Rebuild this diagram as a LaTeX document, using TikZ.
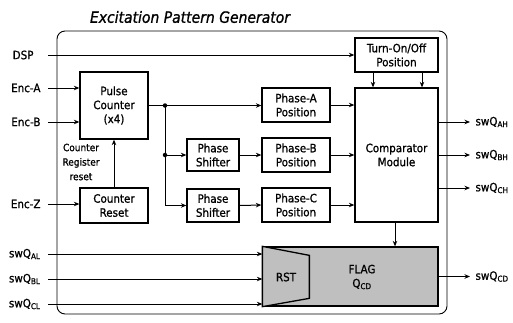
\documentclass[tikz,border=0pt]{standalone}
\usepackage{fontspec}
\setmainfont{DejaVu Sans Condensed}[FakeBold=1]
\usetikzlibrary{arrows.meta,calc}
\newcommand\myfs{\fontsize{11.5}{14}\selectfont}
\newcommand\mysmall{\fontsize{10}{14.5}\selectfont}
\newcommand\mytitle{\fontsize{15.5}{17}\selectfont\itshape}
\begin{document}
\begin{tikzpicture}[x=1pt,y=-1pt,line width=1pt,
  box/.style={draw,line width=1.3pt,fill=white,align=center,inner sep=1pt,font=\myfs},
  arr/.style={-{Stealth[length=5.5pt,width=4.5pt]},line width=1pt},
  lbl/.style={font=\myfs,inner sep=0pt},
  olbl/.style={font=\myfs,inner sep=0pt,anchor=west},
  jdot/.style={circle,fill,inner sep=0pt,minimum size=4.5pt}]
\useasboundingbox (0,0) rectangle (513,322);
% title and container
\node[font=\mytitle] (title) at (190,17) {Excitation Pattern Generator};
\node[draw,line width=0.9pt,rounded corners=8pt,minimum width=390pt,minimum height=283pt,inner sep=0pt] (epg) at (252,172.5) {};
% input coordinates
\coordinate (iDSP) at (48,55);
\coordinate (iA) at (48,88);
\coordinate (iB) at (48,122);
\coordinate (iZ) at (48,204);
\coordinate (iAL) at (48,254);
\coordinate (iBL) at (48,279);
\coordinate (iCL) at (48,304);
\node[lbl,anchor=east] (lDSP) at (34,55) {DSP};
\node[lbl,anchor=east] (lA) at (41,88) {Enc-A};
\node[lbl,anchor=east] (lB) at (41,122) {Enc-B};
\node[lbl,anchor=east] (lZ) at (41,204) {Enc-Z};
\node[lbl,anchor=east] (lAL) at (41,254) {swQ\textsubscript{AL}};
\node[lbl,anchor=east] (lBL) at (41,279) {swQ\textsubscript{BL}};
\node[lbl,anchor=east] (lCL) at (41,304) {swQ\textsubscript{CL}};
% blocks
\node[box,minimum width=68pt,minimum height=67pt] (pulse) at (114,105.5) {Pulse\\Counter\\(x4)};
\node[box,minimum width=68pt,minimum height=35pt] (creset) at (114,205.5) {Counter\\Reset};
\node[font=\mysmall,align=center,inner sep=0pt] (crlbl) at (81,162) {Counter\\Register\\reset};
\node[box,minimum width=52pt,minimum height=32pt] (shB) at (213,155) {Phase\\Shifter};
\node[box,minimum width=52pt,minimum height=33pt] (shC) at (213,205.5) {Phase\\Shifter};
\node[box,minimum width=68pt,minimum height=34pt] (phA) at (296,105) {Phase-A\\Position};
\node[box,minimum width=68pt,minimum height=34pt] (phB) at (296,155) {Phase-B\\Position};
\node[box,minimum width=68pt,minimum height=34pt] (phC) at (296,205) {Phase-C\\Position};
\node[box,minimum width=83pt,minimum height=34pt] (turn) at (396.5,55) {Turn-On/Off\\Position};
\node[box,minimum width=83pt,minimum height=134pt] (comp) at (396.5,155) {Comparator\\Module};
\node[draw,line width=1.3pt,fill=gray!50,minimum width=175pt,minimum height=59pt,inner sep=0pt] (flag) at (350.5,276.5) {};
\draw[line width=1.3pt,fill=gray!50] (flag.north west) -- ++(47,9) -- ++(0,43) -- (flag.south west) -- cycle;
\node[font=\myfs,inner sep=0pt] (rst) at (286,277) {RST};
\node[font=\myfs,align=center,inner sep=0pt] (flagtxt) at (362,277) {FLAG\\Q\textsubscript{CD}};
% inputs
\draw[arr] (iDSP) -- (iDSP -| turn.west);
\draw[arr] (iA) -- (iA -| pulse.west);
\draw[arr] (iB) -- (iB -| pulse.west);
\draw[arr] (iZ) -- (iZ -| creset.west);
\draw[arr] (iAL) -- (iAL -| flag.west);
\draw[arr] (iBL) -- (iBL -| flag.west);
\draw[arr] (iCL) -- (iCL -| flag.west);
% counter reset to pulse counter
\draw[arr] (creset.north) -- (pulse.south);
% pulse counter distribution
\coordinate (j1) at (165,105.5);
\coordinate (j2) at (165,155);
\coordinate (j3) at (165,205.5);
\draw[arr] (pulse.east) -- (pulse.east -| phA.west);
\draw (j1) -- (j3);
\draw[arr] (j2) -- (shB.west);
\draw[arr] (j3) -- (shC.west);
\node[jdot] (d1) at (j1) {};
\node[jdot] (d2) at (j2) {};
\draw[arr] (shB.east) -- (phB.west);
\draw[arr] (shC.east) -- (phC.west);
% phase positions to comparator
\draw[arr] (phA.east) -- (phA.east -| comp.west);
\draw[arr] (phB.east) -- (phB.east -| comp.west);
\draw[arr] (phC.east) -- (phC.east -| comp.west);
% turn-on/off to comparator
\draw[arr] ([xshift=-23.5pt]turn.south) -- ([xshift=-23.5pt]turn.south |- comp.north);
\draw[arr] ([xshift=25.5pt]turn.south) -- ([xshift=25.5pt]turn.south |- comp.north);
% comparator to flag
\draw[arr] ([xshift=-1.5pt]comp.south) -- ([xshift=-1.5pt]comp.south |- flag.north);
% outputs
\coordinate (oAH) at (470,122);
\coordinate (oBH) at (470,155);
\coordinate (oCH) at (470,188);
\coordinate (oCD) at (470,276.5);
\draw[arr] (oAH -| comp.east) -- (oAH);
\draw[arr] (oBH -| comp.east) -- (oBH);
\draw[arr] (oCH -| comp.east) -- (oCH);
\draw[arr] (flag.east) -- (oCD);
\node[olbl] (lAH) at (475,122) {swQ\textsubscript{AH}};
\node[olbl] (lBH) at (475,155) {swQ\textsubscript{BH}};
\node[olbl] (lCH) at (475,188) {swQ\textsubscript{CH}};
\node[olbl] (lCD) at (475,276.5) {swQ\textsubscript{CD}};
\end{tikzpicture}
\end{document}
